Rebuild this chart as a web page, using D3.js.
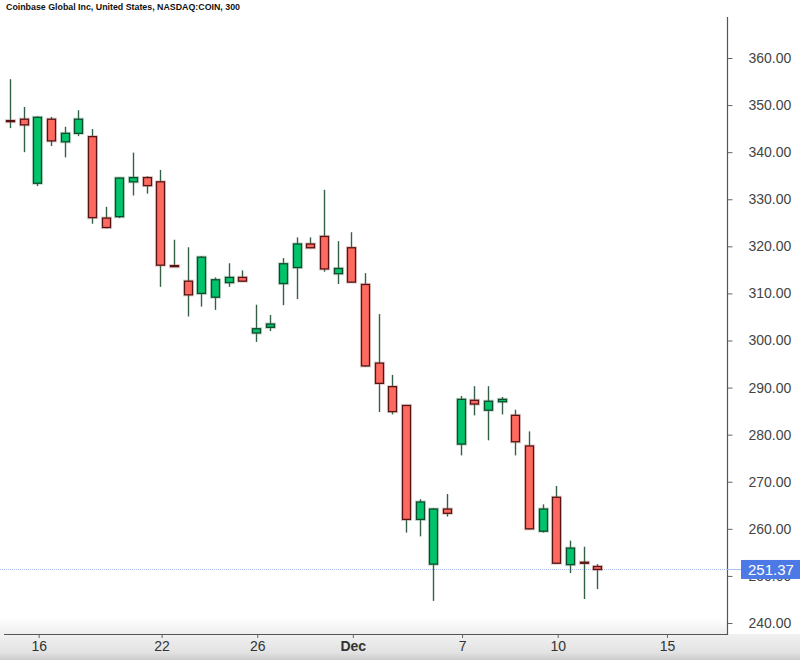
<!DOCTYPE html>
<html>
<head>
<meta charset="utf-8">
<script src="https://cdn.jsdelivr.net/npm/d3@7"></script>
<style>
  body { margin: 0; background: #fff; }
  svg { display: block; font-family: "Liberation Sans", Arial, sans-serif; }
</style>
</head>
<body>
<div id="chart"></div>
<script>
// OHLC per 300-minute candle
const opens  = [346.7, 347.0, 333.4, 347.0, 342.2, 344.0, 343.3, 326.0, 326.3, 333.7, 334.6, 333.7,
                315.9, 312.6, 310.0, 309.2, 312.3, 313.4, 301.6, 302.8, 312.1, 315.5, 320.5, 322.1,
                314.2, 319.7, 311.9, 295.2, 290.2, 286.2, 262.0, 252.5, 264.2, 278.0, 287.3, 285.2,
                287.0, 284.1, 277.6, 259.5, 266.7, 252.4, 252.9, 252.0];
const highs  = [355.5, 349.6, 347.6, 347.5, 345.4, 348.9, 344.9, 328.4, 334.6, 339.9, 334.9, 336.2,
                321.4, 319.8, 317.9, 313.4, 316.4, 314.9, 307.6, 305.4, 317.5, 321.9, 321.9, 332.0,
                321.1, 323.0, 314.3, 305.6, 292.7, 286.3, 266.3, 264.4, 267.4, 288.2, 290.3, 290.3,
                288.0, 285.3, 280.7, 265.2, 269.1, 257.5, 256.2, 252.5];
const lows   = [345.1, 340.0, 332.8, 341.3, 338.9, 343.4, 324.8, 323.8, 326.0, 330.8, 331.2, 311.4,
                315.7, 305.1, 307.2, 306.5, 311.4, 312.5, 299.7, 302.0, 307.5, 308.8, 319.6, 314.6,
                312.0, 312.3, 294.4, 284.8, 284.3, 259.2, 258.4, 244.7, 262.6, 275.6, 284.1, 278.8,
                284.3, 275.6, 259.9, 259.2, 252.6, 250.6, 245.1, 247.2];
const closes = [346.5, 345.8, 347.4, 342.4, 344.0, 347.0, 326.1, 324.0, 334.5, 334.6, 332.9, 316.0,
                315.8, 309.7, 317.7, 312.9, 313.4, 312.6, 302.5, 303.5, 316.3, 320.5, 319.7, 315.2,
                315.3, 312.4, 294.6, 290.9, 284.9, 262.0, 265.7, 264.2, 263.3, 287.5, 286.5, 287.1,
                287.5, 278.5, 260.0, 264.2, 252.7, 255.9, 252.7, 251.37];

// x ticks sit on candle index (first candle of the day)
const xTickIdx    = [2.1, 11.1, 18.1, 25.1, 33.1, 40.1, 48.1];
const xTickLabels = ["16", "22", "26", "Dec", "7", "10", "15"];
const yTicks = [240, 250, 260, 270, 280, 290, 300, 310, 320, 330, 340, 350, 360];
const lastPrice = 251.37;
const title = "Coinbase Global Inc, United States, NASDAQ:COIN, 300";

const W = 800, H = 660;
const plotL = 0, plotR = 727, plotT = 17, plotB = 634;

const svg = d3.select("#chart").append("svg").attr("width", W).attr("height", H);

const defs = svg.append("defs");
const gBot = defs.append("linearGradient").attr("id", "botg").attr("x1", 0).attr("y1", 0).attr("x2", 0).attr("y2", 1);
gBot.append("stop").attr("offset", "0%").attr("stop-color", "#f1f1f1");
gBot.append("stop").attr("offset", "70%").attr("stop-color", "#e3e3e3");
gBot.append("stop").attr("offset", "100%").attr("stop-color", "#cccccc");
const gFade = defs.append("linearGradient").attr("id", "fadeg").attr("x1", 0).attr("y1", 0).attr("x2", 0).attr("y2", 1);
gFade.append("stop").attr("offset", "0%").attr("stop-color", "#fff");
gFade.append("stop").attr("offset", "100%").attr("stop-color", "#eeeeee");
defs.append("clipPath").attr("id", "plotclip").append("rect")
  .attr("x", plotL).attr("y", plotT).attr("width", plotR - plotL).attr("height", plotB - plotT);

const x = d3.scaleLinear().domain([0, 43]).range([10, 597.3]);
const y = d3.scaleLinear().domain([240, 360]).range([623, 58]);
const bodyW = 8;

// bottom band
svg.append("rect").attr("x", 0).attr("y", 618).attr("width", plotR).attr("height", plotB - 618).attr("fill", "url(#fadeg)");
svg.append("rect").attr("x", 0).attr("y", plotB).attr("width", W).attr("height", H - plotB).attr("fill", "url(#botg)");

// title
svg.append("text").attr("x", 6).attr("y", 10)
  .attr("font-size", 9.8).attr("font-weight", "bold").attr("fill", "#111")
  .attr("textLength", 234).attr("lengthAdjust", "spacingAndGlyphs")
  .text(title);

const candles = d3.range(opens.length).map(i => ({
  i, o: opens[i], h: highs[i], l: lows[i], c: closes[i], up: closes[i] >= opens[i]
}));

const plot = svg.append("g").attr("clip-path", "url(#plotclip)");

// last price line
plot.append("line")
  .attr("x1", 0).attr("x2", plotR)
  .attr("y1", Math.round(y(lastPrice)) + 0.5).attr("y2", Math.round(y(lastPrice)) + 0.5)
  .attr("stroke", "#a9bff0").attr("stroke-width", 1).attr("stroke-dasharray", "1,1");

// wicks
plot.selectAll(".wick").data(candles).join("line")
  .attr("class", "wick")
  .attr("x1", d => Math.round(x(d.i)) + 0.5).attr("x2", d => Math.round(x(d.i)) + 0.5)
  .attr("y1", d => y(d.h)).attr("y2", d => y(d.l))
  .attr("stroke", "#1d4f33").attr("stroke-width", 1.4).attr("stroke-opacity", 0.9);

// soft halo behind bodies
plot.selectAll(".halo").data(candles).join("rect")
  .attr("class", "halo")
  .attr("x", d => Math.round(x(d.i)) + 0.5 - bodyW / 2)
  .attr("y", d => y(Math.max(d.o, d.c)))
  .attr("width", bodyW)
  .attr("height", d => Math.max(1, y(Math.min(d.o, d.c)) - y(Math.max(d.o, d.c))))
  .attr("fill", "none").attr("stroke", d => d.up ? "#5f9a7a" : "#b07a78")
  .attr("stroke-width", 3.2).attr("stroke-opacity", 0.35);

// bodies
plot.selectAll(".body").data(candles).join("rect")
  .attr("class", "body")
  .attr("x", d => Math.round(x(d.i)) + 0.5 - bodyW / 2)
  .attr("y", d => y(Math.max(d.o, d.c)))
  .attr("width", bodyW)
  .attr("height", d => Math.max(1, y(Math.min(d.o, d.c)) - y(Math.max(d.o, d.c))))
  .attr("fill", d => d.up ? "#00c46b" : "#ff6a60")
  .attr("stroke", d => d.up ? "#0f4a2a" : "#561414")
  .attr("stroke-width", 1.3);

// x axis
const xAxis = d3.axisBottom(x).tickValues(xTickIdx).tickSize(4).tickPadding(3)
  .tickFormat((d, k) => xTickLabels[k]);
const gx = svg.append("g").attr("transform", `translate(0,${plotB})`).call(xAxis);
gx.select(".domain").remove();
gx.selectAll(".tick line").attr("stroke", "#666");
gx.selectAll(".tick text")
  .attr("font-family", "'Liberation Sans Narrow', 'Liberation Sans', Arial, sans-serif")
  .attr("font-size", 14).attr("fill", "#333")
  .attr("font-weight", (d, k) => xTickLabels[k] === "Dec" ? "bold" : "normal");
svg.append("line").attr("x1", 4).attr("x2", plotR + 0.5)
  .attr("y1", plotB + 0.5).attr("y2", plotB + 0.5)
  .attr("stroke", "#555").attr("stroke-width", 1.2);

// y axis on the right
const yAxis = d3.axisRight(y).tickValues(yTicks).tickSize(5).tickPadding(16)
  .tickFormat(d => d.toFixed(2));
const gy = svg.append("g").attr("transform", `translate(${plotR + 0.5},0)`).call(yAxis);
gy.select(".domain").remove();
gy.selectAll(".tick line").attr("stroke", "#666");
gy.selectAll(".tick text").attr("font-size", 14).attr("fill", "#444")
  .attr("font-family", "'Liberation Sans', Arial, sans-serif");
svg.append("line").attr("x1", plotR + 0.5).attr("x2", plotR + 0.5)
  .attr("y1", plotT).attr("y2", plotB + 1)
  .attr("stroke", "#555").attr("stroke-width", 1.2);

// last price tag (covers the 250.00 label, as in the original)
const py = y(lastPrice);
svg.append("line").attr("x1", plotR).attr("x2", 741)
  .attr("y1", Math.round(py) + 0.5).attr("y2", Math.round(py) + 0.5)
  .attr("stroke", "#a9bff0").attr("stroke-width", 1);
svg.append("rect").attr("x", 741).attr("y", py - 9.5).attr("width", 59).attr("height", 19)
  .attr("fill", "#4d79e6");
svg.append("text").attr("x", 748).attr("y", py + 5.5)
  .attr("font-size", 15).attr("fill", "#fff")
  .text(lastPrice.toFixed(2));
</script>
</body>
</html>
